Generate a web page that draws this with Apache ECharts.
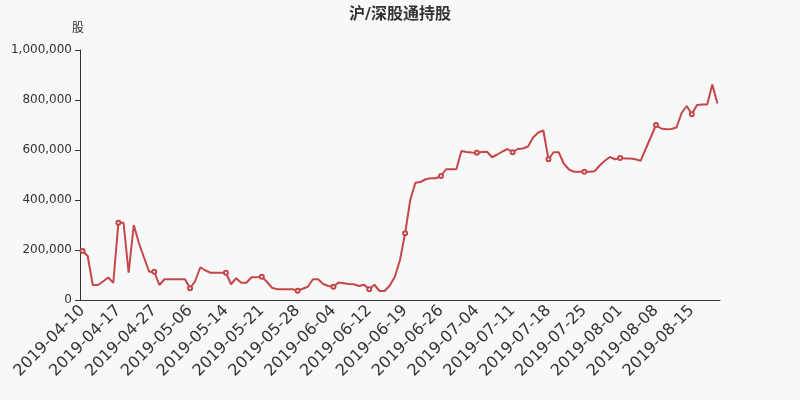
<!DOCTYPE html>
<html>
<head>
<meta charset="utf-8">
<script src="https://cdn.jsdelivr.net/npm/echarts@6/dist/echarts.min.js"></script>
<style>html,body{margin:0;padding:0;background:#f8f8f8;}#main{width:800px;height:400px;}</style>
</head>
<body>
<div id="main"></div>
<script>
var dates = [
'2019-04-10','2019-04-11','2019-04-12','2019-04-13','2019-04-14','2019-04-15','2019-04-16','2019-04-17',
'2019-04-18','2019-04-19','2019-04-23','2019-04-24','2019-04-25','2019-04-26','2019-04-27',
'2019-04-28','2019-04-29','2019-04-30','2019-05-02','2019-05-03','2019-05-05','2019-05-06',
'2019-05-07','2019-05-08','2019-05-09','2019-05-10','2019-05-11','2019-05-13','2019-05-14',
'2019-05-15','2019-05-16','2019-05-17','2019-05-18','2019-05-19','2019-05-20','2019-05-21',
'2019-05-22','2019-05-23','2019-05-24','2019-05-25','2019-05-26','2019-05-27','2019-05-28',
'2019-05-29','2019-05-30','2019-05-31','2019-06-01','2019-06-02','2019-06-03','2019-06-04',
'2019-06-05','2019-06-06','2019-06-08','2019-06-09','2019-06-10','2019-06-11','2019-06-12',
'2019-06-13','2019-06-14','2019-06-15','2019-06-16','2019-06-17','2019-06-18','2019-06-19',
'2019-06-20','2019-06-21','2019-06-22','2019-06-23','2019-06-24','2019-06-25','2019-06-26',
'2019-06-27','2019-06-28','2019-06-29','2019-06-30','2019-07-02','2019-07-03','2019-07-04',
'2019-07-05','2019-07-06','2019-07-07','2019-07-08','2019-07-09','2019-07-10','2019-07-11',
'2019-07-12','2019-07-13','2019-07-14','2019-07-15','2019-07-16','2019-07-17','2019-07-18',
'2019-07-19','2019-07-20','2019-07-21','2019-07-22','2019-07-23','2019-07-24','2019-07-25',
'2019-07-26','2019-07-27','2019-07-28','2019-07-29','2019-07-30','2019-07-31','2019-08-01',
'2019-08-02','2019-08-03','2019-08-04','2019-08-05','2019-08-06','2019-08-07','2019-08-08',
'2019-08-09','2019-08-10','2019-08-11','2019-08-12','2019-08-13','2019-08-14','2019-08-15',
'2019-08-16','2019-08-17','2019-08-18','2019-08-19','2019-08-20'
];
var holdings = [
196000,176000,60000,60000,74000,90000,69000,309000,
309000,109000,300000,228000,170000,113000,113000,
60000,83000,83000,83000,83000,83000,47000,
76000,131000,118000,109000,109000,109000,109000,
63000,87000,69000,69000,91000,91000,93000,
73000,49000,43000,43000,43000,43000,37000,
45000,53000,83000,83000,64000,56000,53000,
70000,67000,64000,63000,56000,61000,43000,
61000,36000,36000,58000,93000,160000,267000,
400000,469000,472000,483000,487000,487000,496000,
523000,523000,523000,596000,592000,590000,589000,
592000,593000,571000,582000,594000,604000,591000,
604000,606000,614000,650000,670000,678000,563000,
591000,591000,545000,522000,513000,513000,513000,
513000,515000,538000,557000,572000,563000,568000,
566000,566000,563000,557000,605000,652000,700000,
686000,683000,684000,690000,748000,776000,743000,
780000,782000,782000,862000,786000
];
var yTicks = [0, 200000, 400000, 600000, 800000, 1000000];
var titleText = '沪/深股通持股';
var yName = '股';

var chart = echarts.init(document.getElementById('main'));
chart.setOption({
  backgroundColor: '#f8f8f8',
  animation: false,
  textStyle: { fontFamily: '"DejaVu Sans", "Noto Sans CJK SC", sans-serif' },
  title: {
    text: titleText, left: 'center', top: 2,
    textStyle: { fontSize: 16, fontWeight: 'bold', color: '#333',
      fontFamily: '"DejaVu Sans", "Noto Sans CJK SC", sans-serif' }
  },
  grid: { left: 80, right: 80, top: 50, bottom: 100 },
  xAxis: {
    type: 'category',
    data: dates,
    axisLine: { lineStyle: { color: '#333' } },
    axisTick: { interval: 6 },
    axisLabel: { interval: 6, rotate: 45, fontSize: 16, color: '#333' }
  },
  yAxis: {
    type: 'value',
    name: yName,
    nameGap: 15,
    nameTextStyle: { color: '#333', fontSize: 12, padding: [0, 4, 0, 0] },
    min: yTicks[0], max: yTicks[yTicks.length - 1], interval: 200000,
    axisLine: { show: true, lineStyle: { color: '#333' } },
    axisTick: { show: true },
    splitLine: { show: false },
    axisLabel: {
      fontSize: 12, color: '#333',
      formatter: function (v) { return v.toString().replace(/\B(?=(\d{3})+(?!\d))/g, ','); }
    }
  },
  series: [{
    type: 'line',
    data: holdings,
    symbol: 'emptyCircle',
    symbolSize: 4,
    itemStyle: { color: '#c4474a', borderWidth: 1 },
    lineStyle: { width: 2, color: '#c4474a' }
  }]
});
</script>
</body>
</html>
